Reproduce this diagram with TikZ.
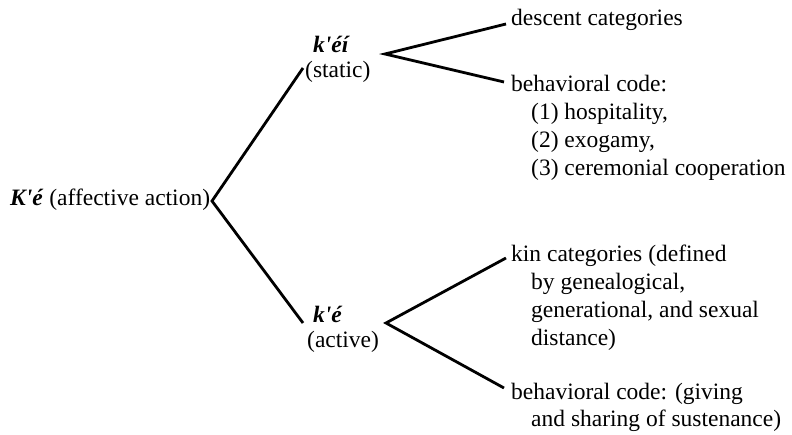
\documentclass[tikz,border=0pt]{standalone}
\usepackage{fontspec}
% Times-metric serif; no TeX ligature mapping so ' stays a straight tick
\newfontfamily\bodyfont{Liberation Serif}
\newcommand{\term}[1]{\textbf{\textit{#1}}}
\newcommand{\ind}{\hspace*{20pt}}
% left-aligned block whose baseline is that of its first line
\newcommand{\block}[1]{\begin{tabular}[t]{@{}l@{}}#1\end{tabular}}
\begin{document}
\begin{tikzpicture}[x=1pt,y=-1pt,
  lbl/.style={inner sep=0pt, anchor=base west,
    font=\bodyfont\fontsize{23.5}{28}\selectfont},
  branch/.style={line width=2.8pt, line cap=butt, line join=miter}]
\useasboundingbox (0,0) rectangle (792,435);

% root term
\node[lbl] (root) at (10,206) {\term{K'é} (affective action)};

% second level
\node[lbl] (static) at (305,53) {\block{\hspace*{8pt}\term{k'éí}\\[-3pt](static)}};
\node[lbl] (active) at (307,323) {\block{\hspace*{6pt}\term{k'é}\\[-3pt](active)}};

% leaves
\node[lbl] (descent) at (511,26) {descent categories};
\node[lbl] (codeA) at (511,92) {\block{behavioral code:\\
  \ind(1) hospitality,\\
  \ind(2) exogamy,\\
  \ind(3) ceremonial cooperation}};
\node[lbl] (kin) at (511,262) {\block{kin categories (defined\\
  \ind by genealogical,\\
  \ind generational, and sexual\\
  \ind distance)}};
\node[lbl] (codeB) at (511,399) {\block{behavioral code: (giving\\
  \ind and sharing of sustenance)}};

% branch points and line ends
\coordinate (v0) at (212,201);
\coordinate (s0) at (303,68);
\coordinate (a0) at (303,323);
\coordinate (v1) at (385,54);
\coordinate (d0) at (506,24);
\coordinate (c0) at (504,82);
\coordinate (v2) at (386,323);
\coordinate (k0) at (506,258);
\coordinate (b0) at (504,388);

\draw[branch] (s0) -- (v0) -- (a0);
\draw[branch] (d0) -- (v1) -- (c0);
\draw[branch] (k0) -- (v2) -- (b0);
\end{tikzpicture}
\end{document}
